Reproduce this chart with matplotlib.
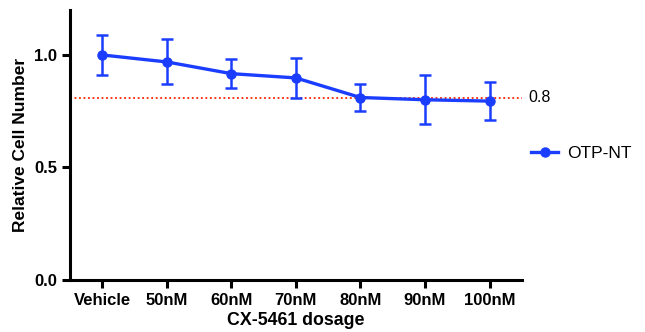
import numpy as np
import matplotlib.pyplot as plt
from matplotlib.lines import Line2D

categories = ['Vehicle', '50nM', '60nM', '70nM', '80nM', '90nM', '100nM']
means = [1.0, 0.969, 0.917, 0.898, 0.811, 0.801, 0.795]
errs = [0.09, 0.10, 0.064, 0.09, 0.059, 0.108, 0.085]
threshold = 0.81
threshold_label = '0.8'
series_name = 'OTP-NT'

plt.rcParams['font.family'] = ['Liberation Sans', 'DejaVu Sans']

blue = '#1B3DFF'
red = '#FF2200'

fig = plt.figure(figsize=(6.45, 3.32), dpi=100)
ax = fig.add_axes([0.1085, 0.1566, 0.7005, 0.8134])

x = np.arange(len(categories))
ax.errorbar(x, means, yerr=errs, color=blue, lw=2.4, marker='o', ms=6.5,
            elinewidth=1.8, capsize=4.5, capthick=1.8)
ax.axhline(threshold, color=red, ls=(0, (1, 1.5)), lw=1.3, zorder=0)
ax.text(6.6, threshold, threshold_label, fontsize=11.5, va='center', ha='left',
        clip_on=False)

ax.set_xlim(-0.5, 6.5)
ax.set_ylim(0, 1.2)
ax.set_xticks(x)
ax.set_xticklabels(categories, fontweight='bold', fontsize=12)
ax.set_yticks([0.0, 0.5, 1.0])
ax.set_yticklabels(['0.0', '0.5', '1.0'], fontweight='bold', fontsize=12)
ax.set_xlabel('CX-5461 dosage', fontweight='bold', fontsize=12.8, labelpad=3)
ax.set_ylabel('Relative Cell Number', fontweight='bold', fontsize=12.5, labelpad=5)

for s in ['top', 'right']:
    ax.spines[s].set_visible(False)
for s in ['left', 'bottom']:
    ax.spines[s].set_linewidth(2.2)
ax.tick_params(width=2.2, length=6, pad=3)

handle = Line2D([], [], color=blue, lw=2.4, marker='o', ms=6.5)
ax.legend([handle], [series_name], loc='center left', bbox_to_anchor=(0.985, 0.47),
          frameon=False, fontsize=12.5, handlelength=1.6, handletextpad=0.5)

fig.savefig('out.png', dpi=100)
